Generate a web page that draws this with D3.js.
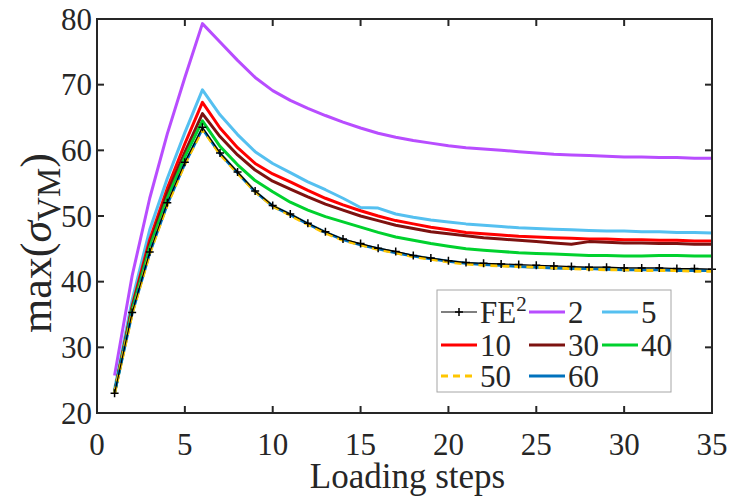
<!DOCTYPE html>
<html>
<head>
<meta charset="utf-8">
<script src="https://cdn.jsdelivr.net/npm/d3@7"></script>
<style>
  body { margin: 0; background: #fff; }
  text { font-family: "Liberation Serif", "Times New Roman", serif; fill: #262626; }
</style>
</head>
<body>
<div id="chart"></div>
<script>
// loading steps 1..35
const steps = d3.range(1, 36)

const fe2 = [23.0, 35.3, 44.5, 52.0, 58.2, 63.5, 59.6, 56.7, 53.8, 51.6, 50.3, 48.9, 47.6, 46.5, 45.8, 45.1, 44.6, 44.0, 43.6, 43.2, 42.9, 42.8, 42.7, 42.6, 42.5, 42.4, 42.3, 42.2, 42.2, 42.1, 42.1, 42.1, 42.0, 42.0, 41.9]
const s2 = [25.7, 40.9, 52.7, 62.5, 71.1, 79.3, 76.5, 73.7, 71.1, 69.1, 67.6, 66.4, 65.3, 64.3, 63.4, 62.6, 62.0, 61.5, 61.1, 60.7, 60.4, 60.2, 60.0, 59.8, 59.6, 59.4, 59.3, 59.2, 59.1, 59.0, 59.0, 58.9, 58.9, 58.8, 58.8]
const s5 = [23.6, 37.2, 47.9, 55.7, 62.7, 69.2, 65.4, 62.4, 59.8, 58.0, 56.6, 55.2, 54.0, 52.7, 51.3, 51.2, 50.3, 49.8, 49.4, 49.1, 48.8, 48.6, 48.4, 48.2, 48.1, 48.0, 47.9, 47.8, 47.7, 47.7, 47.6, 47.6, 47.5, 47.5, 47.4]
const s10 = [23.2, 36.3, 46.4, 54.2, 61.0, 67.3, 63.4, 60.4, 58.0, 56.4, 55.2, 53.9, 52.7, 51.7, 50.8, 50.0, 49.3, 48.8, 48.3, 47.9, 47.5, 47.3, 47.1, 46.9, 46.8, 46.7, 46.6, 46.5, 46.5, 46.4, 46.4, 46.3, 46.3, 46.2, 46.2]
const s30 = [23.1, 36.0, 45.7, 53.5, 59.7, 65.6, 62.1, 59.3, 57.0, 55.3, 54.1, 52.9, 51.8, 50.9, 50.0, 49.3, 48.6, 48.1, 47.6, 47.3, 47.0, 46.7, 46.5, 46.3, 46.1, 45.9, 45.7, 46.1, 46.0, 45.9, 45.9, 45.8, 45.8, 45.7, 45.7]
const s40 = [23.1, 35.7, 45.2, 52.7, 59.0, 64.5, 60.6, 57.8, 55.4, 53.7, 52.1, 50.9, 49.9, 49.1, 48.3, 47.5, 46.8, 46.3, 45.8, 45.4, 45.0, 44.8, 44.6, 44.4, 44.3, 44.2, 44.1, 44.0, 44.0, 43.9, 43.9, 44.0, 44.0, 43.9, 43.9]
const s50 = [23.0, 35.1, 44.3, 51.7, 57.9, 63.2, 59.4, 56.5, 53.7, 51.5, 50.1, 48.7, 47.4, 46.3, 45.6, 44.9, 44.4, 43.8, 43.4, 43.0, 42.7, 42.5, 42.4, 42.3, 42.2, 42.1, 42.0, 41.9, 41.8, 41.8, 41.7, 41.7, 41.7, 41.6, 41.6]
const s60 = [23.1, 35.2, 44.4, 51.8, 58.0, 63.3, 59.5, 56.6, 53.7, 51.5, 50.2, 48.8, 47.5, 46.4, 45.6, 45.0, 44.4, 43.9, 43.5, 43.1, 42.8, 42.6, 42.5, 42.3, 42.2, 42.1, 42.0, 42.0, 41.9, 41.8, 41.8, 41.8, 41.7, 41.7, 41.7]

const xTicks = [0, 5, 10, 15, 20, 25, 30, 35]
const yTicks = [20, 30, 40, 50, 60, 70, 80]

// drawing order: colored ones first, FE2 on top
const series = [
  {name: "2", values: s2, color: "#b84dff", dash: null},
  {name: "5", values: s5, color: "#55c0f0", dash: null},
  {name: "10", values: s10, color: "#ff0000", dash: null},
  {name: "30", values: s30, color: "#7d1210", dash: null},
  {name: "40", values: s40, color: "#00d12e", dash: null},
  {name: "60", values: s60, color: "#0072bd", dash: null},
  {name: "50", values: s50, color: "#ffc600", dash: "7,5"}
]

const width = 732, height = 499
const margin = {left: 97, right: 20, top: 19, bottom: 86}

const svg = d3.select("#chart").append("svg")
  .attr("width", width)
  .attr("height", height)

const x = d3.scaleLinear().domain([0, 35]).range([margin.left, width - margin.right])
const y = d3.scaleLinear().domain([20, 80]).range([height - margin.bottom, margin.top])

const line = d3.line()
  .x((d, i) => x(steps[i]))
  .y(d => y(d))

// lines
let plot = svg.append("g").attr("id", "lines")

series.forEach(s => {
  plot.append("path")
    .attr("d", line(s.values))
    .attr("fill", "none")
    .attr("stroke", s.color)
    .attr("stroke-width", 3)
    .attr("stroke-dasharray", s.dash)
    .attr("stroke-linejoin", "round")
})

// FE2 reference with + markers
plot.append("path")
  .attr("d", line(fe2))
  .attr("fill", "none")
  .attr("stroke", "#000")
  .attr("stroke-width", 1.2)

plot.selectAll(".plus")
  .data(fe2)
  .enter()
  .append("path")
  .attr("class", "plus")
  .attr("d", (d, i) => {
    let cx = x(steps[i]), cy = y(d)
    return `M${cx - 4},${cy}H${cx + 4}M${cx},${cy - 4}V${cy + 4}`
  })
  .attr("stroke", "#000")
  .attr("stroke-width", 1.5)

// axes - box with inner ticks
const tickLen = 7
let axisG = svg.append("g").attr("id", "axes")

axisG.append("rect")
  .attr("x", x(0)).attr("y", y(80))
  .attr("width", x(35) - x(0)).attr("height", y(20) - y(80))
  .attr("fill", "none")
  .attr("stroke", "#262626")
  .attr("stroke-width", 2)

xTicks.forEach(t => {
  axisG.append("line")
    .attr("x1", x(t)).attr("x2", x(t))
    .attr("y1", y(20)).attr("y2", y(20) - tickLen)
    .attr("stroke", "#262626").attr("stroke-width", 2)
  axisG.append("line")
    .attr("x1", x(t)).attr("x2", x(t))
    .attr("y1", y(80)).attr("y2", y(80) + tickLen)
    .attr("stroke", "#262626").attr("stroke-width", 2)
  axisG.append("text")
    .attr("x", x(t)).attr("y", y(20) + 42)
    .attr("text-anchor", "middle")
    .attr("font-size", 31)
    .text(t)
})

yTicks.forEach(t => {
  axisG.append("line")
    .attr("x1", x(0)).attr("x2", x(0) + tickLen)
    .attr("y1", y(t)).attr("y2", y(t))
    .attr("stroke", "#262626").attr("stroke-width", 2)
  axisG.append("line")
    .attr("x1", x(35)).attr("x2", x(35) - tickLen)
    .attr("y1", y(t)).attr("y2", y(t))
    .attr("stroke", "#262626").attr("stroke-width", 2)
  axisG.append("text")
    .attr("x", x(0) - 5).attr("y", y(t) + 10.5)
    .attr("text-anchor", "end")
    .attr("font-size", 31)
    .text(t)
})

// axis labels
svg.append("text")
  .attr("x", (x(0) + x(35)) / 2 + 3)
  .attr("y", 488)
  .attr("text-anchor", "middle")
  .attr("font-size", 35)
  .text("Loading steps")

let yLab = svg.append("text")
  .attr("transform", `translate(51, 243) rotate(-90)`)
  .attr("text-anchor", "middle")
  .attr("font-size", 44)
yLab.append("tspan").text("max(")
yLab.append("tspan").attr("font-style", "italic").text("σ")
yLab.append("tspan").attr("font-size", 33).attr("dy", 9).text("VM")
yLab.append("tspan").attr("dy", -9).text(")")

// legend
const legendItems = [
  {name: "FE", sup: "2", color: "#000", dash: null, marker: true},
  {name: "2", color: "#b84dff"},
  {name: "5", color: "#55c0f0"},
  {name: "10", color: "#ff0000"},
  {name: "30", color: "#7d1210"},
  {name: "40", color: "#00d12e"},
  {name: "50", color: "#ffc600", dash: "7,5"},
  {name: "60", color: "#0072bd"}
]
const legX = 437, legY = 290
const colX = [4, 92, 165]
const rowY = [22, 55, 86]

let leg = svg.append("g").attr("id", "legend")
leg.append("rect")
  .attr("x", legX).attr("y", legY)
  .attr("width", 234).attr("height", 102)
  .attr("fill", "#fff")
  .attr("stroke", "#a6a6a6")
  .attr("stroke-width", 1)

legendItems.forEach((d, i) => {
  let cx = legX + colX[i % 3], cy = legY + rowY[Math.floor(i / 3)]
  leg.append("line")
    .attr("x1", cx).attr("x2", cx + 36)
    .attr("y1", cy).attr("y2", cy)
    .attr("stroke", d.color)
    .attr("stroke-width", d.marker ? 1.2 : 3)
    .attr("stroke-dasharray", d.dash || null)
  if (d.marker) {
    leg.append("path")
      .attr("d", `M${cx + 14},${cy}H${cx + 22}M${cx + 18},${cy - 4}V${cy + 4}`)
      .attr("stroke", "#000").attr("stroke-width", 1.5)
  }
  let t = leg.append("text")
    .attr("x", cx + 39).attr("y", cy + 10.5)
    .attr("font-size", 31)
    .text(d.name)
  if (d.sup) {
    t.append("tspan").attr("font-size", 21).attr("dy", -12).text(d.sup)
  }
})
</script>
</body>
</html>
